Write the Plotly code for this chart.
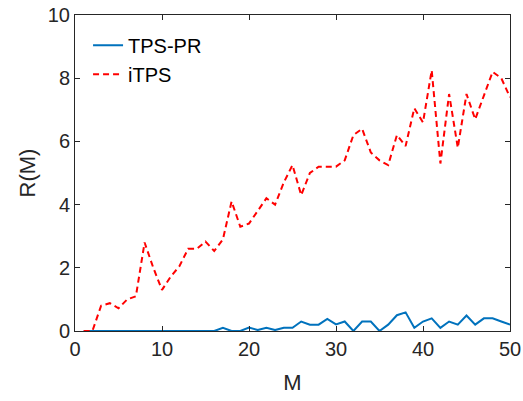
import plotly.graph_objects as go

M = list(range(1, 51))
tps_pr = [0, 0, 0, 0, 0, 0, 0, 0, 0, 0,
          0, 0, 0, 0, 0, 0, 0.1, 0, 0, 0.11,
          0.03, 0.1, 0.03, 0.1, 0.1, 0.3, 0.2, 0.2, 0.38, 0.21,
          0.3, 0, 0.3, 0.3, 0, 0.2, 0.5, 0.59, 0.1, 0.3,
          0.4, 0.1, 0.3, 0.2, 0.49, 0.2, 0.4, 0.4, 0.3, 0.2]
itps = [0, 0, 0.8, 0.88, 0.72, 1.0, 1.1, 2.8, 2.0, 1.3,
        1.72, 2.05, 2.6, 2.6, 2.83, 2.53, 2.9, 4.1, 3.3, 3.4,
        3.8, 4.2, 4.0, 4.7, 5.25, 4.3, 5.0, 5.2, 5.2, 5.2,
        5.4, 6.2, 6.4, 5.65, 5.4, 5.25, 6.2, 5.85, 7.05, 6.6,
        8.25, 5.3, 7.5, 5.8, 7.5, 6.7, 7.45, 8.2, 8.0, 7.4]

x_ticks = [0, 10, 20, 30, 40, 50]
y_ticks = [0, 2, 4, 6, 8, 10]

fig = go.Figure()
fig.add_trace(go.Scatter(x=M, y=tps_pr, mode="lines", name="TPS-PR",
                         line=dict(color="#0072BD", width=2)))
fig.add_trace(go.Scatter(x=M, y=itps, mode="lines", name="iTPS",
                         line=dict(color="#FF0000", width=2, dash="6px,4px")))

axis_common = dict(
    showgrid=False, zeroline=False, showline=True, mirror="ticks",
    linecolor="#262626", linewidth=1, ticks="inside", ticklen=5,
    tickcolor="#262626", tickfont=dict(size=20, color="#262626"),
    automargin=False,
)
fig.update_xaxes(range=[0, 50], tickvals=x_ticks,
                 title=dict(text="M", font=dict(size=22, color="#262626"), standoff=15),
                 **axis_common)
fig.update_yaxes(range=[0, 10], tickvals=y_ticks,
                 title=dict(text="R(M)", font=dict(size=22, color="#262626"), standoff=6),
                 **axis_common)

fig.update_layout(
    width=523, height=401,
    margin=dict(l=75, r=13, t=15, b=70),
    paper_bgcolor="white", plot_bgcolor="white",
    font=dict(family="Liberation Sans, Arial, sans-serif", color="#262626"),
    legend=dict(x=0.03, y=0.966, xanchor="left", yanchor="top",
                bgcolor="rgba(0,0,0,0)", font=dict(size=20, color="#000000"),
                borderwidth=0),
)

fig.write_html("out.html",
               config={"displayModeBar": False},
               post_script="document.body.style.margin='0';document.body.style.padding='0';")
